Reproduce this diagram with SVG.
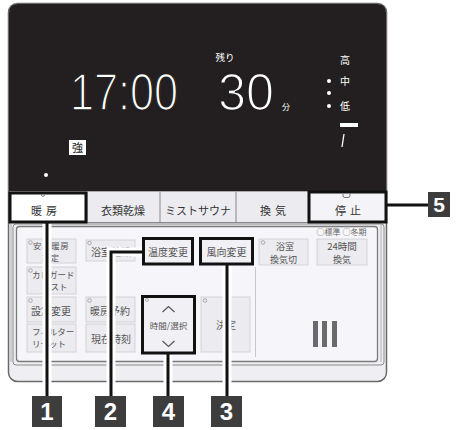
<svg xmlns="http://www.w3.org/2000/svg" width="457" height="430" viewBox="0 0 457 430">
<defs>
<style>
.jp{font-family:"Noto Sans CJK JP","Noto Sans",sans-serif}
.lcd{fill:#fff}
.row{font-size:11px;fill:#333;text-anchor:middle}
.btn{fill:#ebebf0;stroke:#d2d2d8;stroke-width:1}
.bt{font-size:10px;fill:#555}
.bt2{font-size:8.5px;fill:#555}
.ind{fill:none;stroke:#9a9a9a;stroke-width:0.8}
.hl{fill:#f1f1f5;stroke:#111;stroke-width:3}
.halo{fill:none;stroke:#fff;stroke-width:9}
.wire{fill:none;stroke:#111;stroke-width:3}
.lab{fill:#3d3d3d}
.labt{font-family:"Liberation Sans",Arial,sans-serif;font-weight:bold;fill:#fff;text-anchor:middle}
.seg{font-family:"Liberation Sans",Arial,sans-serif;font-size:51px;fill:#fff;stroke:#231f20;stroke-width:1.6}
</style>
</defs>
<rect width="457" height="430" fill="#fff"/>
<g id="body">
<rect x="8.5" y="3.5" width="378" height="378" rx="9" fill="#efeff3" stroke="#6a6a6a" stroke-width="1.5"/>
<rect x="13" y="224" width="371" height="141" rx="3" fill="none" stroke="#8a8a8a" stroke-width="1"/>
<rect x="16.5" y="226.5" width="361" height="135" rx="3" fill="#f6f6fa" stroke="#7a7a7a" stroke-width="1.3"/>
<line x1="11" y1="224" x2="11" y2="362" stroke="#b0b0b0" stroke-width="1"/>
<line x1="381" y1="224" x2="381" y2="362" stroke="#b0b0b0" stroke-width="1"/>
</g>
<g id="display">
<path d="M9,13 Q9,4 18,4 H377 Q386,4 386,13 V191 H9 Z" fill="#231f20"/>
<text class="jp lcd" x="225" y="60.5" font-size="9.5" text-anchor="middle">残り</text>
<text class="seg" x="70" y="110" textLength="108" lengthAdjust="spacingAndGlyphs">17:00</text>
<text class="seg" x="218" y="110" textLength="56" lengthAdjust="spacingAndGlyphs">30</text>
<text class="jp lcd" x="286" y="110" font-size="8" text-anchor="middle">分</text>
<text class="jp lcd" x="345" y="64" font-size="10" text-anchor="middle">高</text>
<text class="jp lcd" x="345" y="85" font-size="10" text-anchor="middle">中</text>
<text class="jp lcd" x="345" y="110" font-size="10" text-anchor="middle">低</text>
<circle cx="329" cy="81" r="2" fill="#fff"/>
<circle cx="329" cy="93" r="2" fill="#fff"/>
<circle cx="329" cy="106" r="2" fill="#fff"/>
<rect x="340" y="123" width="18" height="4" fill="#fff"/>
<line x1="344" y1="134" x2="342" y2="147" stroke="#fff" stroke-width="1.3"/>
<rect x="69" y="140" width="17" height="15" fill="#fff"/>
<text class="jp" x="77.5" y="152" font-size="11" fill="#222" text-anchor="middle">強</text>
<circle cx="46" cy="175" r="2" fill="#fff"/>
</g>
<g id="row">
<rect x="9" y="191" width="377" height="31" fill="#ececf0"/>
<line x1="9" y1="222.5" x2="386" y2="222.5" stroke="#888" stroke-width="1.2"/>
<line x1="9" y1="191.5" x2="386" y2="191.5" stroke="#aaa" stroke-width="1"/>
<line x1="160" y1="192" x2="160" y2="222" stroke="#888" stroke-width="1"/>
<line x1="236" y1="192" x2="236" y2="222" stroke="#888" stroke-width="1"/>
<line x1="87" y1="192" x2="87" y2="222" stroke="#888" stroke-width="1"/>
</g>
<g id="btn-danbo">
<rect class="hl" x="10" y="193" width="76" height="29" style="fill:#fff"/>
<path d="M41,195 q2,3 4,0" fill="none" stroke="#666" stroke-width="0.9"/>
<text class="jp row" x="46" y="215" letter-spacing="4">暖房</text>
</g>
<g id="btn-irui"><text class="jp row" x="123" y="215">衣類乾燥</text></g>
<g id="btn-mist"><text class="jp row" x="198" y="215">ミストサウナ</text></g>
<g id="btn-kanki"><text class="jp row" x="275" y="215" letter-spacing="4">換気</text></g>
<g id="btn-teishi">
<rect class="hl" x="309" y="192" width="77" height="30" style="fill:#f4f4f8"/>
<path d="M343,194 v1.5 q0,2 2,2 h3 q2,0 2,-2 v-1.5" fill="none" stroke="#666" stroke-width="0.9"/>
<text class="jp row" x="350" y="215" letter-spacing="4">停止</text>
</g>
<g id="btn-anshin">
<rect class="btn" x="27" y="239" width="49" height="24"/>
<circle class="ind" cx="30.5" cy="242.5" r="1.8"/>
<text class="jp bt2" x="33" y="248.5" letter-spacing="0.6">安心暖房</text>
<text class="jp bt2" x="42" y="261">設定</text>
</g>
<g id="btn-kabi">
<rect class="btn" x="27" y="267" width="49" height="27"/>
<circle class="ind" cx="30.5" cy="270.5" r="1.8"/>
<text class="jp bt2" x="32" y="277.5">カビガード</text>
<text class="jp bt2" x="42" y="290">ミスト</text>
</g>
<g id="btn-settei">
<rect class="btn" x="27" y="297" width="49" height="25"/>
<circle class="ind" cx="30.5" cy="300.5" r="1.8"/>
<text class="jp bt" x="31" y="315">設定変更</text>
</g>
<g id="btn-filter">
<rect class="btn" x="27" y="324" width="49" height="28"/>
<text class="jp bt2" x="32" y="334.5">フィルター</text>
<text class="jp bt2" x="32" y="347">リセット</text>
</g>
<g id="btn-yokushitsu">
<rect class="btn" x="86" y="240" width="49" height="21"/>
<circle class="ind" cx="89.5" cy="243" r="1.8"/>
<text class="jp bt" x="91" y="256">浴室乾燥</text>
</g>
<g id="btn-yoyaku">
<rect class="btn" x="86" y="297" width="49" height="25"/>
<circle class="ind" cx="89.5" cy="300.5" r="1.8"/>
<text class="jp bt" x="90" y="315">暖房予約</text>
</g>
<g id="btn-genzai">
<rect class="btn" x="86" y="324" width="49" height="28"/>
<text class="jp bt" x="91" y="343">現在時刻</text>
</g>
<g id="btn-ondo">
<rect class="hl" x="143.5" y="238.5" width="49" height="25.5"/>
<text class="jp bt" x="168" y="256" text-anchor="middle">温度変更</text>
</g>
<g id="btn-fukou">
<rect class="hl" x="200.5" y="238.5" width="52" height="25.5"/>
<text class="jp bt" x="226.5" y="256" text-anchor="middle">風向変更</text>
</g>
<g id="btn-jikan">
<rect class="hl" x="142.5" y="296.5" width="52" height="56.5"/>
<circle class="ind" cx="147" cy="300" r="1.5"/>
<path d="M162.5,312 L168.5,306.5 L174.5,312" fill="none" stroke="#555" stroke-width="1.2"/>
<text class="jp" x="168.5" y="329" font-size="8.5" fill="#555" text-anchor="middle">時間/選択</text>
<path d="M162.5,341 L168.5,346.5 L174.5,341" fill="none" stroke="#555" stroke-width="1.2"/>
</g>
<g id="btn-kettei">
<rect class="btn" x="201" y="297" width="49" height="55"/>
<circle class="ind" cx="205" cy="300.5" r="1.8"/>
<text class="jp bt" x="226" y="329" text-anchor="middle">決定</text>
</g>
<g id="btn-kankikiri">
<rect class="btn" x="259" y="239" width="49" height="26"/>
<circle class="ind" cx="263" cy="242.5" r="1.8"/>
<text class="jp bt2" x="285" y="249.5" text-anchor="middle" style="font-size:9px">浴室</text>
<text class="jp bt2" x="283.5" y="262.5" text-anchor="middle" style="font-size:9px">換気切</text>
</g>
<g id="btn-24h">
<text class="jp" x="341.5" y="235" font-size="8" fill="#666" text-anchor="middle">○標準 ○冬期</text>
<rect class="btn" x="317" y="239" width="50" height="26"/>
<text class="jp" x="342" y="249.5" font-size="9.5" fill="#555" text-anchor="middle">24時間</text>
<text class="jp" x="342" y="262.5" font-size="9" fill="#555" text-anchor="middle">換気</text>
</g>
<g id="grip">
<line x1="255.5" y1="267" x2="255.5" y2="357" stroke="#c8c8cc" stroke-width="1"/>
<rect x="313" y="321" width="5" height="26" fill="#6a6a6a"/>
<rect x="322" y="321" width="5" height="26" fill="#6a6a6a"/>
<rect x="332" y="321" width="5" height="26" fill="#6a6a6a"/>
</g>
<g id="connectors">
<path class="halo" d="M47,224 V396"/>
<path class="halo" d="M142,252 H111 V396"/>
<path class="halo" d="M227,266 V396"/>
<path class="halo" d="M168,355 V396"/>
<path class="wire" d="M47,223 V396"/>
<path class="wire" d="M143,252 H111 V396"/>
<path class="wire" d="M227,265 V396"/>
<path class="wire" d="M168,354 V396"/>
<path class="wire" d="M387,205 H428"/>
</g>
<g id="label-1"><rect class="lab" x="32" y="396" width="30" height="31"/><text class="labt" x="47" y="420" font-size="24">1</text></g>
<g id="label-2"><rect class="lab" x="95" y="396" width="31" height="31"/><text class="labt" x="110.5" y="420" font-size="24">2</text></g>
<g id="label-4"><rect class="lab" x="153" y="396" width="31" height="31"/><text class="labt" x="168.5" y="420" font-size="24">4</text></g>
<g id="label-3"><rect class="lab" x="211" y="396" width="31" height="31"/><text class="labt" x="226.5" y="420" font-size="24">3</text></g>
<g id="label-5"><rect class="lab" x="428" y="192" width="22" height="25"/><text class="labt" x="439" y="212" font-size="21">5</text></g>
</svg>
